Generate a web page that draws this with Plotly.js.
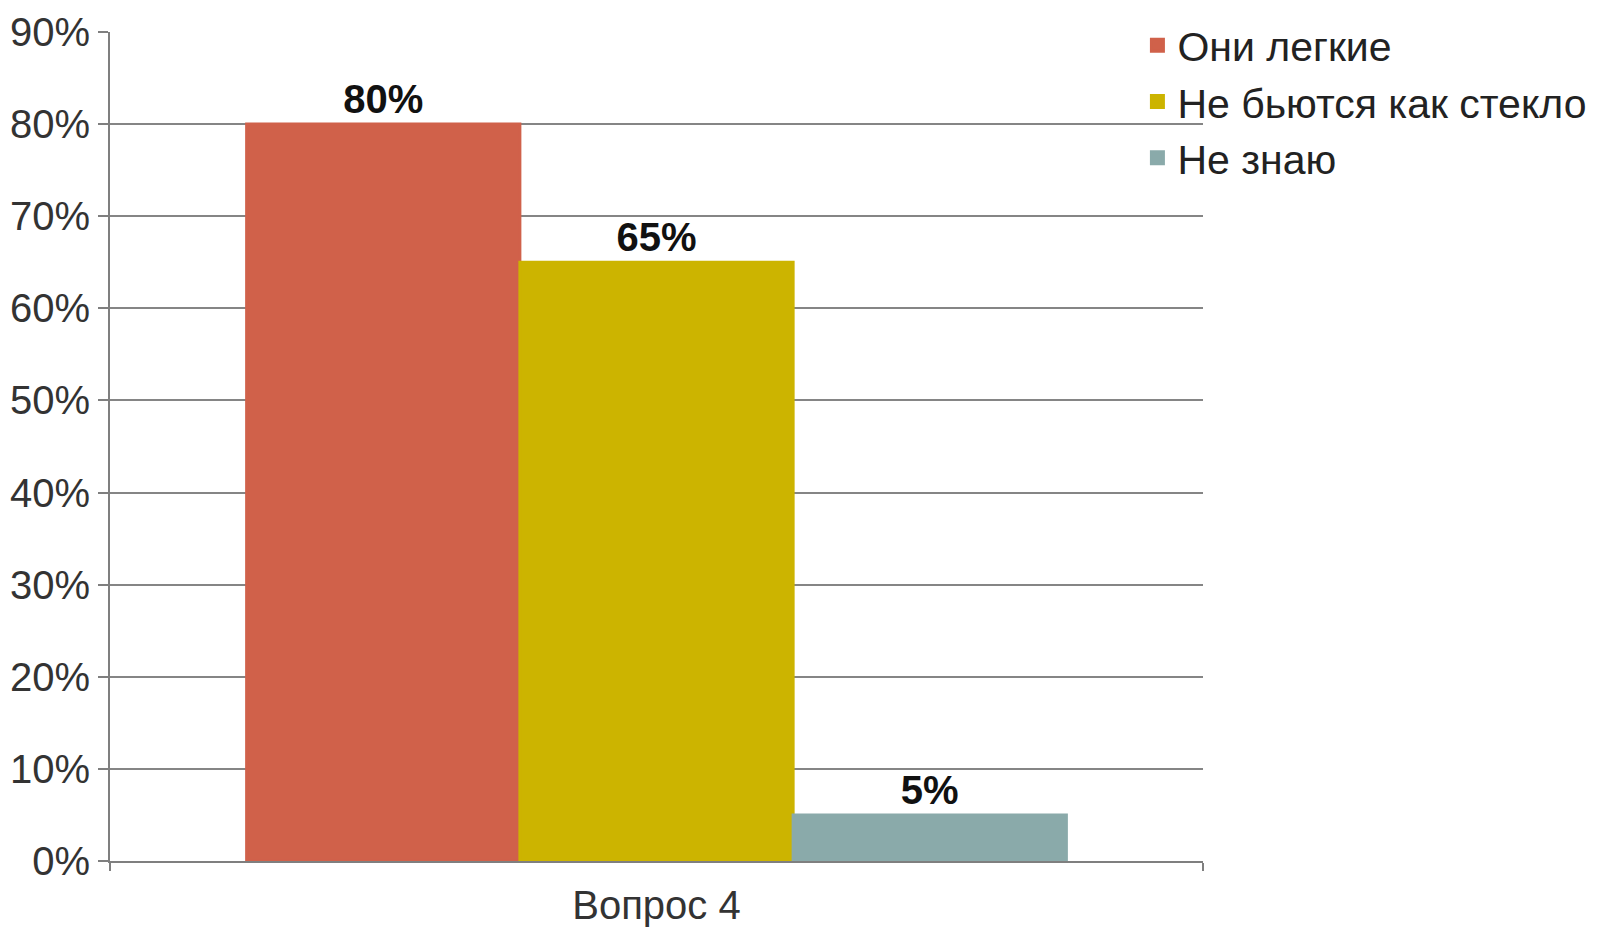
<!DOCTYPE html>
<html>
<head>
<meta charset="utf-8">
<script src="https://cdn.plot.ly/plotly-3.0.1.min.js"></script>
<style>html,body{margin:0;padding:0;background:#fff;}#chart{width:1615px;height:930px;}</style>
</head>
<body>
<div id="chart"></div>
<script>
const categories = ['Вопрос 4'];
const seriesNames = ['Они легкие', 'Не бьются как стекло', 'Не знаю'];
const seriesValues = [[0.80], [0.65], [0.05]];
const seriesColors = ['#D0614A', '#CCB400', '#8AAAAA'];
const yTickVals = [0, 0.1, 0.2, 0.3, 0.4, 0.5, 0.6, 0.7, 0.8, 0.9];

const font = 'Liberation Sans, Arial, sans-serif';
const traces = seriesNames.map((name, i) => ({
  type: 'bar',
  name: name,
  x: categories,
  y: seriesValues[i],
  marker: {color: seriesColors[i], line: {color: seriesColors[i], width: 3}},
  texttemplate: '<b>%{y:.0%}</b>',
  textposition: 'outside',
  textfont: {family: font, size: 40, color: '#111'},
  cliponaxis: false,
  hoverinfo: 'skip'
}));

const layout = {
  width: 1615, height: 930,
  margin: {l: 110, r: 412, t: 32, b: 69},
  paper_bgcolor: '#fff', plot_bgcolor: '#fff',
  barmode: 'group', bargap: 0.25, bargroupgap: 0,
  font: {family: font, size: 40, color: '#333'},
  showlegend: true,
  legend: {x: 0.94, xanchor: 'left', y: 1.024, yanchor: 'top',
           font: {family: font, size: 41, color: '#222'},
           bgcolor: 'rgba(0,0,0,0)', tracegroupgap: 0, itemwidth: 30},
  xaxis: {type: 'category', showgrid: false, showline: true, linecolor: '#7f7f7f', linewidth: 2,
          ticks: 'outside', tickson: 'boundaries', ticklen: 8, tickcolor: '#7f7f7f', tickwidth: 2,
          ticklabelstandoff: 8,
          tickfont: {family: font, size: 40, color: '#333'}, zeroline: false},
  yaxis: {range: [0, 0.9], tickvals: yTickVals, tickformat: '.0%', showgrid: true,
          gridcolor: '#858585', gridwidth: 2, showline: true, linecolor: '#7f7f7f', linewidth: 2,
          ticks: 'outside', ticklen: 10, tickcolor: '#7f7f7f', tickwidth: 2,
          tickfont: {family: font, size: 40, color: '#333'}, zeroline: false}
};

Plotly.newPlot('chart', traces, layout, {displayModeBar: false, staticPlot: true});
</script>
</body>
</html>
